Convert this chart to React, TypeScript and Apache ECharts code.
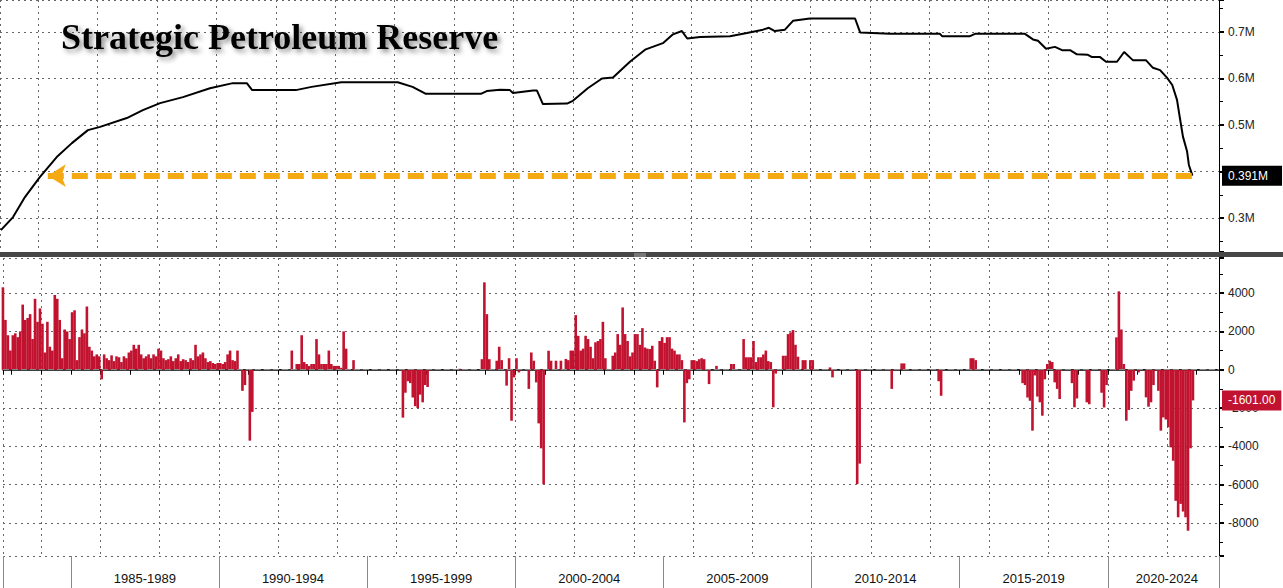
import { useEffect, useRef } from 'react';
import * as echarts from 'echarts';

const TITLE = 'Strategic Petroleum Reserve';
const X_MIN = 1982.71;
const X_MAX = 2023.754;
const TOP_MIN = 0.2269;
const TOP_MAX = 0.7688;
const BOTTOM_MIN = -9720;
const BOTTOM_MAX = 5830;
const ARROW_TIP_YEAR = 1984.32;
const BAND_YEARS = 5;

// SPR level (millions of thousand barrels, shown as "M")
const lineYears = [
  1982.74, 1983.15, 1983.55, 1984.05, 1984.62, 1985.13, 1985.67, 1986.08, 1986.98, 1987.52,
  1988.1, 1988.87, 1989.78, 1990.55, 1991.02, 1991.2, 1992.67, 1993.2, 1994.2, 1996.1,
  1996.6, 1997.05, 1998.9, 1999.1, 1999.55, 1999.88, 1999.98, 2000.66, 2000.79, 2000.99,
  2001.8, 2002.0, 2002.5, 2002.98, 2003.35, 2003.92, 2004.43, 2005.03, 2005.37, 2005.67,
  2005.85, 2006.28, 2007.29, 2007.86, 2008.4, 2008.6, 2008.8, 2009.14, 2009.41, 2009.98,
  2011.5, 2011.67, 2012.68, 2014.36, 2014.43, 2015.37, 2015.54, 2017.22, 2017.49, 2017.66,
  2017.93, 2018.23, 2018.47, 2018.74, 2018.97, 2019.34, 2019.48, 2019.75, 2019.95, 2020.32,
  2020.56, 2020.86, 2021.3, 2021.53, 2021.77, 2022.0, 2022.18, 2022.34, 2022.44, 2022.54,
  2022.68, 2022.74, 2022.86,
];
const lineValues = [
  0.274, 0.302, 0.345, 0.388, 0.431, 0.461, 0.489, 0.496, 0.515, 0.532,
  0.547, 0.56, 0.579, 0.59, 0.59, 0.575, 0.575, 0.582, 0.592, 0.592,
  0.582, 0.567, 0.567, 0.573, 0.576, 0.575, 0.569, 0.574, 0.574, 0.545,
  0.546, 0.552, 0.579, 0.6, 0.602, 0.636, 0.662, 0.676, 0.695, 0.702,
  0.686, 0.689, 0.691, 0.698, 0.705, 0.709, 0.702, 0.705, 0.724, 0.729,
  0.729, 0.699, 0.696, 0.696, 0.691, 0.691, 0.696, 0.696, 0.684, 0.681,
  0.664, 0.668, 0.661, 0.661, 0.652, 0.651, 0.646, 0.646, 0.636, 0.636,
  0.657, 0.639, 0.639, 0.623, 0.618, 0.602, 0.586, 0.554, 0.514, 0.475,
  0.443, 0.414, 0.391,
];

// Weekly change (thousand barrels), one reading per month from Sep 1982
const FIRST_CHANGE_YEAR = 1982;
const FIRST_CHANGE_MONTH = 9;
const weeklyChange = [
  4300, 2600, 1800, 1000, // 1982 Sep-Dec
  1800, 1900, 1700, 2000, 3400, 2600, 2700, 2900, 1600, 3700, 2500, 3200, // 1983
  2400, 900, 2500, 1200, 1000, 3900, 3700, 2600, 600, 2100, 2000, 1600, // 1984
  3000, 3100, 500, 1700, 2100, 1900, 3300, 1200, 1000, 700, 800, 700, // 1985
  -500, 800, 600, 500, 750, 450, 700, 650, 400, 700, 600, 900, // 1986
  1000, 1300, 1100, 1300, 800, 600, 700, 800, 600, 800, 700, 1100, // 1987
  1000, 600, 500, 550, 700, 450, 600, 800, 450, 550, 500, 400, // 1988
  600, 500, 1300, 700, 800, 900, 600, 400, 450, 350, 300, 350, // 1989
  350, 300, 400, 800, 1000, 500, 450, 1000, 0, -1100, -800, 0, // 1990
  -3700, -2200, 0, 0, 0, 0, 0, 0, 0, 0, 0, 0, // 1991
  0, 0, 0, 0, 0, 1000, 0, 300, 300, 1800, 400, 300, // 1992
  200, 300, 300, 1600, 800, 300, 300, 300, 1000, 300, 200, 200, // 1993
  200, 100, 2000, 1100, 0, 0, 500, 0, 0, 0, 0, 0, // 1994
  0, 0, 0, 0, 0, 0, 0, 30, 0, 0, 0, 0, // 1995
  0, 0, -2500, -1200, -600, -700, -1450, -1900, -2000, -1300, -1700, -800, // 1996
  -900, 0, 0, 0, 0, 0, 0, 0, 0, 0, 0, 0, // 1997
  0, 50, 0, 0, 0, 0, 0, 0, 0, 0, 550, 4560, // 1998
  2900, 550, 0, 0, 470, 1200, 500, 0, -830, 600, -2660, -400, // 1999
  600, -140, 0, 0, 0, -1000, 900, 470, -660, -2800, -4100, -5970, // 2000
  0, 990, 470, 0, 470, 0, 470, 0, 560, 500, 1000, 1000, // 2001
  2850, 1770, 1000, 1100, 1770, 1600, 1200, 600, 1430, 1500, 1600, 2500, // 2002
  600, 0, 0, 730, 900, 1860, 1300, 3250, 1860, 1500, 700, 900, // 2003
  1860, 1860, 1300, 2170, 1160, 1100, 1080, 1250, 470, -920, 1500, 1700, // 2004
  1400, 1700, 1700, 1100, 1000, 800, 800, 500, -2750, -700, -500, 500, // 2005
  500, 450, 550, 600, 550, 0, -750, 0, 0, 200, 0, 0, // 2006
  0, 0, 0, 300, 300, 0, 0, 0, 1600, 650, 650, 650, // 2007
  1500, 400, 650, 650, 800, 1000, 450, 400, -1960, -200, 0, 0, // 2008
  730, 730, 1860, 1950, 2070, 1300, 680, 0, 500, 500, 0, 500, // 2009
  500, 0, 0, 0, 0, 0, 0, 120, -400, 0, 0, 0, // 2010
  0, 0, 0, 0, 0, 0, -5970, -4900, 0, 0, 0, 0, // 2011
  0, 0, 0, 0, 0, 0, 0, 0, -1000, 0, 0, 0, // 2012
  330, 330, 0, 0, 0, 0, 0, 0, 0, 0, 0, 0, // 2013
  0, 0, 0, -600, -1360, 0, 0, 0, 0, 0, 0, 0, // 2014
  0, 0, 0, 0, 600, 600, 500, 0, 0, 0, 0, 0, // 2015
  0, 0, 0, 0, 0, 0, 0, 0, 0, 0, 0, 0, // 2016
  0, -700, -800, -1450, -1620, -3180, -300, -1400, -1700, -2400, -500, 300, // 2017
  470, 400, -660, -1000, -1530, 0, 0, 0, 0, -700, -1960, -1500, // 2018
  0, 0, 0, -1700, -1800, 0, 0, 0, 0, -1200, -1970, -800, // 2019
  0, 0, 0, 1690, 4090, 2100, 300, -2660, -2100, -1100, -570, 0, // 2020
  -140, 0, 0, -1440, -1930, -1700, -800, 0, -1100, -3180, -2490, -2600, // 2021
  -3000, -4050, -4750, -6840, -7700, -7000, -7400, -7700, -8400, -4100, -1601, // 2022 Jan-Nov
];

const RED = '#C1132F';
const ORANGE = '#F5A912';
const FONT = 'Liberation Sans, Arial, sans-serif';
const DOTTED = { color: '#666', type: [2, 4] as number[], width: 1 };
const HIDDEN_LINE = { color: 'rgba(0,0,0,0)', width: 0 };

export default function App() {
  const ref = useRef<HTMLDivElement>(null);

  useEffect(() => {
    if (!ref.current) return;
    const chart = echarts.init(ref.current, null, { renderer: 'svg' });

    const linePts = lineYears.map((y, i) => [y, lineValues[i]]);
    const barPts = weeklyChange.map((v, i) => [
      FIRST_CHANGE_YEAR + (FIRST_CHANGE_MONTH - 1 + i + 0.5) / 12,
      v,
    ]);
    const lastLine = linePts[linePts.length - 1];
    const lastBar = barPts[barPts.length - 1];
    const isMult = (v: number, step: number) =>
      Math.abs(v / step - Math.round(v / step)) < 1e-6;

    const yAxisBase = {
      type: 'value',
      position: 'right',
      axisLine: { show: true, lineStyle: { color: '#000', width: 1 } },
      axisTick: { show: true, length: 5, lineStyle: { color: '#000', width: 2 } },
      minorTick: { show: true, splitNumber: 2, length: 4, lineStyle: { color: '#000' } },
      splitLine: { show: true, lineStyle: DOTTED },
      minorSplitLine: { show: false },
    };

    const option: any = {
      animation: false,
      backgroundColor: '#fff',
      title: {
        text: TITLE,
        left: 56,
        top: 14,
        textStyle: {
          fontFamily: 'Liberation Serif, Times New Roman, serif',
          fontWeight: 'bold',
          fontSize: 36,
          color: '#000',
          textShadowColor: 'rgba(0,0,0,0.45)',
          textShadowBlur: 5,
          textShadowOffsetX: 3,
          textShadowOffsetY: 3,
        },
      },
      grid: [
        { left: 0, right: 64, top: 0, height: 252 },
        { left: 0, right: 64, top: 258, bottom: 32 },
      ],
      xAxis: [
        {
          type: 'value', gridIndex: 0, min: X_MIN, max: X_MAX, splitNumber: 20,
          axisLine: { show: false }, axisTick: { show: false }, axisLabel: { show: false },
          splitLine: { show: true, lineStyle: DOTTED },
        },
        {
          type: 'value', gridIndex: 1, min: X_MIN, max: X_MAX, splitNumber: 20, position: 'bottom',
          axisLine: { show: true, lineStyle: { color: '#000', width: 1.5 } },
          axisTick: { show: true, length: 5, lineStyle: { color: '#000' } },
          minorTick: { show: true, splitNumber: 2, length: 5, lineStyle: { color: '#000' } },
          axisLabel: { show: false },
          splitLine: { show: true, lineStyle: DOTTED },
        },
        {
          type: 'value', gridIndex: 1, min: X_MIN, max: X_MAX, splitNumber: 8, position: 'bottom',
          axisLine: { show: false },
          axisTick: { show: true, length: 32, lineStyle: { color: '#8a8a8a', width: 1 } },
          splitLine: { show: false },
          axisLabel: {
            show: true,
            margin: 16,
            align: 'center',
            formatter: (v: number) => {
              if (!isMult(v, BAND_YEARS)) return '';
              const y = Math.round(v);
              const txt = `${y}-${y + BAND_YEARS - 1}`;
              return y + BAND_YEARS > X_MAX ? `{b|${txt}}` : `{a|${txt}}`;
            },
            rich: {
              a: { fontFamily: FONT, fontSize: 13, color: '#111', padding: [0, 0, 0, 148] },
              b: { fontFamily: FONT, fontSize: 13, color: '#111', padding: [0, 0, 0, 118] },
            },
          },
        },
      ],
      yAxis: [
        {
          ...yAxisBase, gridIndex: 0, min: TOP_MIN, max: TOP_MAX, splitNumber: 5,
          axisLabel: {
            margin: 9, fontFamily: FONT, fontSize: 12, color: '#222',
            formatter: (v: number) => (isMult(v, 0.1) ? `${(Math.round(v * 10) / 10)}M` : ''),
          },
        },
        {
          ...yAxisBase, gridIndex: 1, min: BOTTOM_MIN, max: BOTTOM_MAX, splitNumber: 8,
          axisLabel: {
            margin: 9, fontFamily: FONT, fontSize: 12, color: '#222',
            formatter: (v: number) => (isMult(v, 2000) ? `${Math.round(v)}` : ''),
          },
        },
      ],
      series: [
        {
          type: 'line',
          xAxisIndex: 0,
          yAxisIndex: 0,
          data: linePts,
          showSymbol: false,
          symbol: 'none',
          lineStyle: { color: '#000', width: 2 },
          z: 3,
          markLine: {
            silent: true,
            z: 10,
            data: [
              [
                {
                  coord: [ARROW_TIP_YEAR, lastLine[1]],
                  symbol: 'arrow',
                  symbolSize: [17, 18],
                  lineStyle: { color: ORANGE, width: 6, type: [16, 8], cap: 'butt' },
                  itemStyle: { color: ORANGE },
                  label: { show: false },
                },
                { coord: [lastLine[0], lastLine[1]], symbol: 'none' },
              ],
              [
                {
                  coord: [lastLine[0], lastLine[1]],
                  symbol: 'none',
                  lineStyle: HIDDEN_LINE,
                  label: {
                    show: true,
                    position: 'end',
                    distance: 3,
                    formatter: `${lastLine[1]}M`,
                    backgroundColor: '#000',
                    color: '#fff',
                    opacity: 1,
                    fontFamily: FONT,
                    fontSize: 12,
                    padding: [4, 14, 4, 6],
                  },
                },
                { coord: [X_MAX, lastLine[1]], symbol: 'none' },
              ],
            ],
          },
        },
        {
          type: 'bar',
          xAxisIndex: 1,
          yAxisIndex: 1,
          data: barPts,
          barWidth: 2.6,
          itemStyle: { color: RED },
          z: 3,
          markLine: {
            silent: true,
            z: 10,
            symbol: 'none',
            data: [
              {
                yAxis: 0,
                lineStyle: { color: '#8a8a8a', type: [6, 3], width: 1 },
                label: { show: false },
              },
              [
                {
                  coord: [lastBar[0], lastBar[1]],
                  lineStyle: HIDDEN_LINE,
                  label: {
                    show: true,
                    position: 'end',
                    distance: 3,
                    formatter: (lastBar[1] as number).toFixed(2),
                    backgroundColor: RED,
                    color: '#fff',
                    opacity: 1,
                    fontFamily: FONT,
                    fontSize: 12,
                    padding: [4, 6, 4, 6],
                  },
                },
                { coord: [X_MAX, lastBar[1]] },
              ],
            ],
          },
        },
      ],
      graphic: [
        { type: 'rect', left: 0, top: 252, shape: { width: 1283, height: 5 }, style: { fill: '#474747' }, z: 100 },
        { type: 'line', shape: { x1: 634, y1: 254, x2: 646, y2: 254 }, style: { stroke: '#aaa', lineWidth: 1 }, z: 101 },
        { type: 'line', shape: { x1: 634, y1: 256, x2: 646, y2: 256 }, style: { stroke: '#aaa', lineWidth: 1 }, z: 101 },
      ],
    };

    chart.setOption(option);
    return () => chart.dispose();
  }, []);

  return (
    <div
      ref={ref}
      style={{ position: 'fixed', left: 0, top: 0, width: 1283, height: 588, background: '#fff' }}
    />
  );
}
